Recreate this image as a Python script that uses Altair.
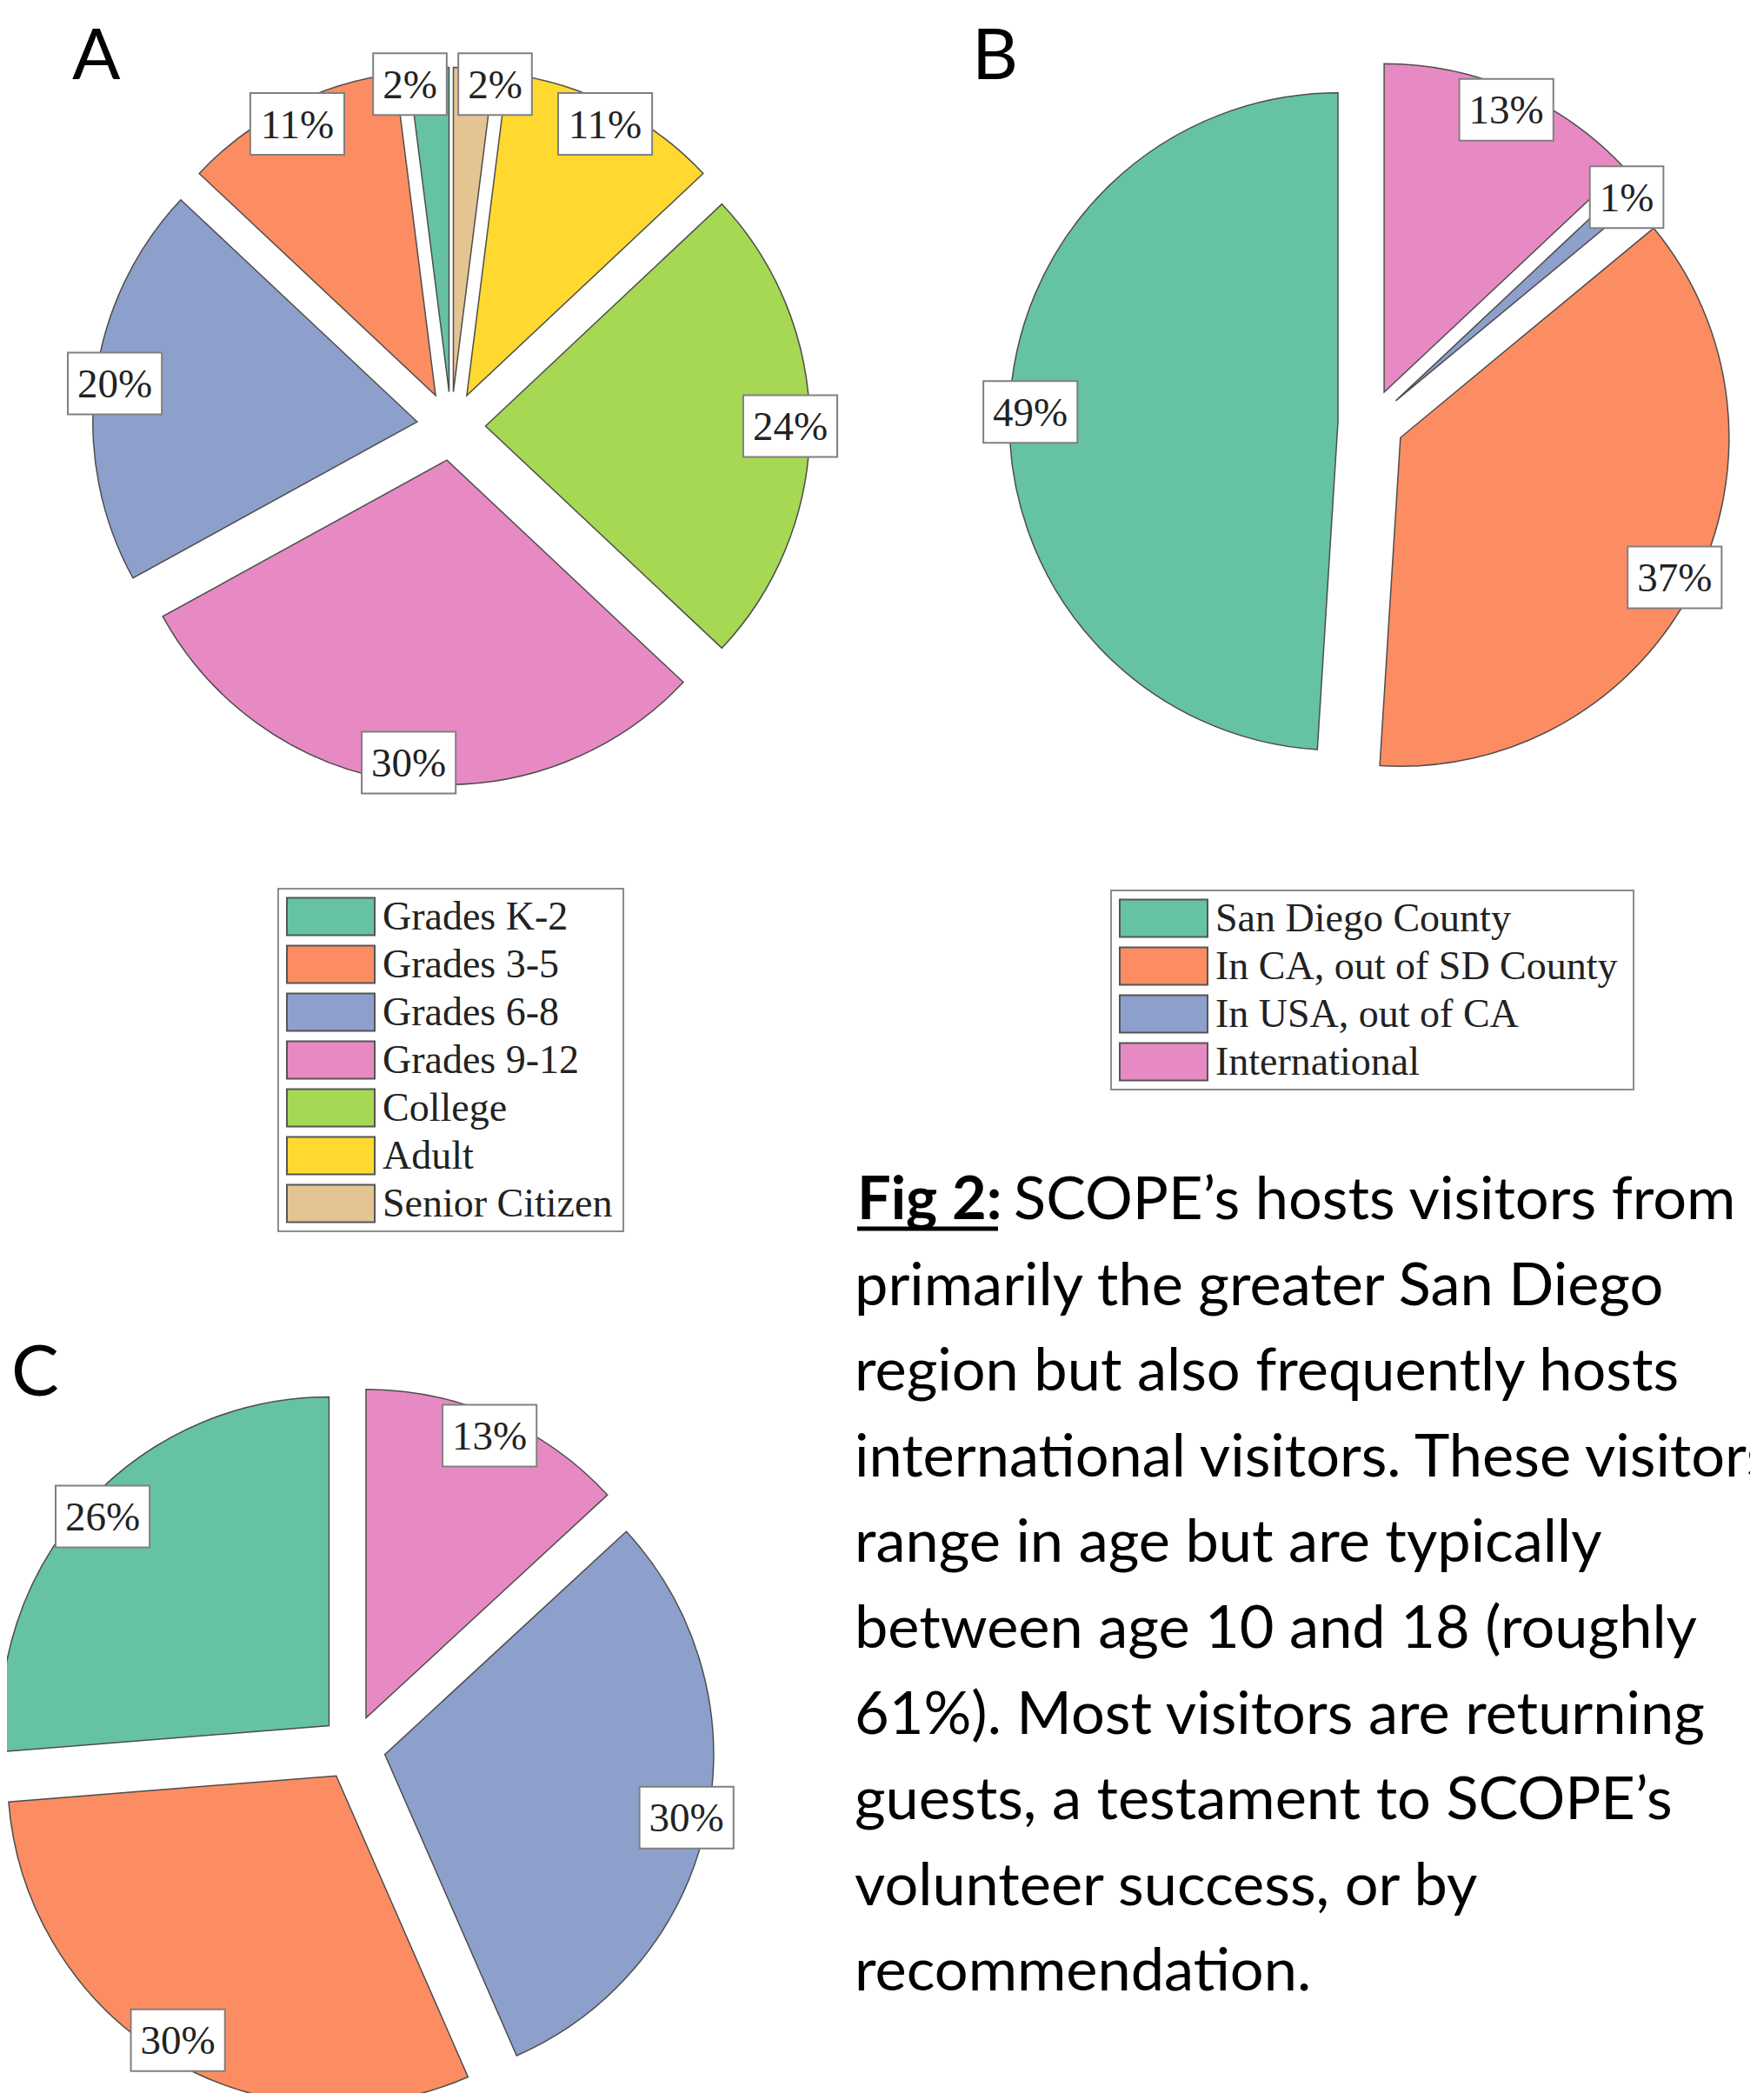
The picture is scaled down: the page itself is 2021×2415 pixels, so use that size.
import math
import altair as alt
import pandas as pd

# ---------------- data ----------------
a_categories = ["Grades K-2", "Grades 3-5", "Grades 6-8", "Grades 9-12",
                "College", "Adult", "Senior Citizen"]
a_values = [2, 11, 20, 30, 24, 11, 2]

b_categories = ["San Diego County", "In CA, out of SD County",
                "In USA, out of CA", "International"]
b_values = [49, 37, 1, 13]

# panel C has no legend in the figure
c_categories = ["Group 1", "Group 2", "Group 3", "Group 4"]
c_values = [26, 30, 30, 13]

panel_letters = ["A", "B", "C"]

caption_lead = "Fig 2:"
caption_lines = [
    "SCOPE\u2019s hosts visitors from",
    "primarily the greater San Diego",
    "region but also frequently hosts",
    "international visitors. These visitors",
    "range in age but are typically",
    "between age 10 and 18 (roughly",
    "61%). Most visitors are returning",
    "guests, a testament to SCOPE\u2019s",
    "volunteer success, or by",
    "recommendation.",
]

# ---------------- styles / layout ----------------
set2 = ["#66c2a5", "#fc8d62", "#8da0cb", "#e78ac3", "#a6d854", "#ffd92f", "#e5c494"]
a_colors = set2
b_colors = set2[:4]
c_colors = set2[:4]

M = 8
W, H = 2005, 2399
xs = alt.Scale(domain=[M, M + W], nice=False, zero=False)
ys = alt.Scale(domain=[M, M + H], nice=False, zero=False, reverse=True)
ts = alt.Scale(domain=[0, 1], range=[2 * math.pi, 0])

LABEL_FS = 47
SERIF = "Liberation Serif"
SANS = "Lato"


def pie(cats, vals, colors, cx, cy, r, e, rl, nudges=None):
    nudges = nudges or {}
    df = pd.DataFrame({"category": cats, "value": vals, "order": list(range(len(cats)))})
    nx = "0"
    ny = "0"
    for k, (dx, dy) in nudges.items():
        nx = f"(datum.category == '{k}' ? {dx} : {nx})"
        ny = f"(datum.category == '{k}' ? {dy} : {ny})"
    base = (
        alt.Chart(df)
        .transform_joinaggregate(total="sum(value)")
        .transform_window(cum="sum(value)", sort=[alt.SortField("order")], frame=[None, 0])
        .transform_calculate(
            f0="(datum.cum - datum.value) / datum.total",
            f1="datum.cum / datum.total",
            label="datum.value + '%'",
        )
        .transform_calculate(mid="2 * PI * (1 - (datum.f0 + datum.f1) / 2)")
        .transform_calculate(
            px=f"{cx} + {e} * sin(datum.mid)",
            py=f"{cy} - {e} * cos(datum.mid)",
            lx=f"{cx} + {rl} * sin(datum.mid) + {nx}",
            ly=f"{cy} - {rl} * cos(datum.mid) + {ny}",
            hw=f"((length(datum.label) - 1) * 0.5 + 0.833) * {LABEL_FS} / 2 + 11",
        )
        .transform_calculate(
            bx0="datum.lx - datum.hw",
            bx1="datum.lx + datum.hw",
            by0="datum.ly - 35.5",
            by1="datum.ly + 35.5",
        )
    )
    arcs = base.mark_arc(radius=r, stroke="#4d4d4d", strokeWidth=1.5).encode(
        x=alt.X("px:Q", scale=xs, axis=None),
        y=alt.Y("py:Q", scale=ys, axis=None),
        theta=alt.Theta("f0:Q", scale=ts, stack=None),
        theta2="f1:Q",
        color=alt.Color("category:N", scale=alt.Scale(domain=cats, range=colors), legend=None),
        tooltip=["category:N", "value:Q"],
    )
    boxes = base.mark_rect(fill="white", stroke="#808080", strokeWidth=2).encode(
        x=alt.X("bx0:Q", scale=xs, axis=None),
        x2="bx1:Q",
        y=alt.Y("by0:Q", scale=ys, axis=None),
        y2="by1:Q",
    )
    texts = base.mark_text(font=SERIF, fontSize=LABEL_FS, color="#222222",
                           baseline="alphabetic", align="center", dy=16).encode(
        x=alt.X("lx:Q", scale=xs, axis=None),
        y=alt.Y("ly:Q", scale=ys, axis=None),
        text="label:N",
    )
    return [arcs, boxes, texts]


def legend(cats, colors, x0, y0, box_w, step=55):
    df = pd.DataFrame({"category": cats, "order": list(range(len(cats)))})
    base = alt.Chart(df).transform_calculate(
        yc=f"{y0} + datum.order * {step}",
    ).transform_calculate(
        sy0="datum.yc - 21.5",
        sy1="datum.yc + 21.5",
        sx0=f"{x0 + 10}",
        sx1=f"{x0 + 111}",
        tx=f"{x0 + 120}",
    )
    frame = (
        alt.Chart(df)
        .transform_aggregate(n="count()")
        .transform_calculate(
            bx0=f"{x0}", bx1=f"{x0 + box_w}",
            by0=f"{y0 - 32}", by1=f"{y0} + (datum.n - 1) * {step} + 32",
        )
        .mark_rect(fill="white", stroke="#8c8c8c", strokeWidth=2)
        .encode(
            x=alt.X("bx0:Q", scale=xs, axis=None), x2="bx1:Q",
            y=alt.Y("by0:Q", scale=ys, axis=None), y2="by1:Q",
        )
    )
    swatches = base.mark_rect(stroke="#555555", strokeWidth=2).encode(
        x=alt.X("sx0:Q", scale=xs, axis=None), x2="sx1:Q",
        y=alt.Y("sy0:Q", scale=ys, axis=None), y2="sy1:Q",
        color=alt.Color("category:N", scale=alt.Scale(domain=cats, range=colors), legend=None),
    )
    labels = base.mark_text(font=SERIF, fontSize=46, color="#222222", align="left",
                            baseline="alphabetic", dy=15).encode(
        x=alt.X("tx:Q", scale=xs, axis=None),
        y=alt.Y("yc:Q", scale=ys, axis=None),
        text="category:N",
    )
    return [frame, swatches, labels]


layers = []
layers += pie(a_categories, a_values, a_colors, cx=519, cy=490, r=373, e=39.5, rl=390,
              nudges={"Grades K-2": (-23, -4), "Senior Citizen": (26, -4)})
layers += pie(b_categories, b_values, b_colors, cx=1577, cy=486, r=378, e=38, rl=392)
layers += pie(c_categories, c_values, c_colors, cx=406, cy=2010, r=378, e=37.5, rl=392)
layers += legend(a_categories, a_colors, x0=320, y0=1054, box_w=397)
layers += legend(b_categories, b_colors, x0=1278, y0=1056, box_w=601)

# panel letters
letter_pos = {"A": (83, 91), "B": (1118, 91), "C": (13, 1605)}
for L in panel_letters:
    lx, ly = letter_pos[L]
    layers.append(
        alt.Chart(pd.DataFrame({"letter": [L]}))
        .mark_text(font=SANS, fontSize=82, color="#000000", align="left", baseline="alphabetic")
        .encode(x=alt.value(lx - M), y=alt.value(ly - M), text="letter:N")
    )

# caption
cap_df = pd.DataFrame({"text": caption_lines, "i": list(range(len(caption_lines)))})
CAP_X, CAP_Y0, CAP_STEP, CAP_FS = 983, 1402, 98.6, 68.5
cap = (
    alt.Chart(cap_df)
    .transform_calculate(
        tx=f"datum.i == 0 ? 1166 : {CAP_X}",
        ty=f"{CAP_Y0} + datum.i * {CAP_STEP}",
    )
    .mark_text(font=SANS, fontSize=CAP_FS, color="#000000", align="left", baseline="alphabetic")
    .encode(
        x=alt.X("tx:Q", scale=xs, axis=None),
        y=alt.Y("ty:Q", scale=ys, axis=None),
        text="text:N",
    )
)
lead = (
    alt.Chart(pd.DataFrame({"text": [caption_lead]}))
    .mark_text(font=SANS, fontSize=CAP_FS, fontWeight="bold", color="#000000",
               align="left", baseline="alphabetic")
    .encode(x=alt.value(CAP_X + 3 - M), y=alt.value(CAP_Y0 - M), text="text:N")
)
underline = (
    alt.Chart(pd.DataFrame({"text": [caption_lead]}))
    .mark_rule(color="#000000", strokeWidth=5)
    .encode(x=alt.value(CAP_X + 3 - M), x2=alt.value(1148 - M), y=alt.value(CAP_Y0 + 11 - M))
)
layers += [cap, lead, underline]

chart = (
    alt.layer(*layers)
    .resolve_scale(color="independent")
    .properties(width=W, height=H, padding=0, autosize=alt.AutoSizeParams(type="none"))
    .configure_view(strokeWidth=0)
)

chart.save("out.html", embed_options={"renderer": "svg", "actions": False})
